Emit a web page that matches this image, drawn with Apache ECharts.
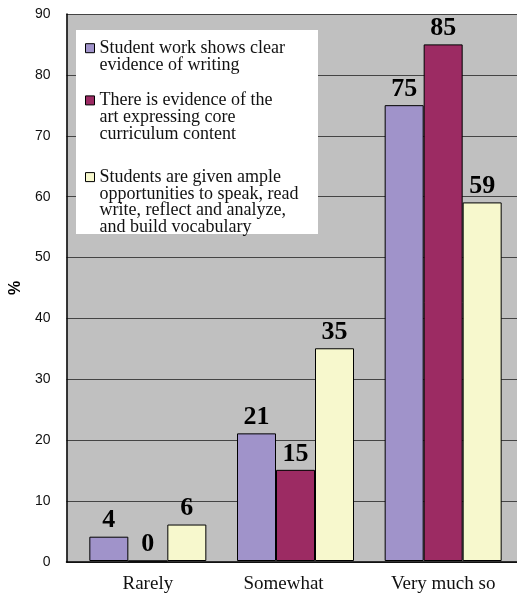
<!DOCTYPE html>
<html>
<head>
<meta charset="utf-8">
<script src="https://cdn.jsdelivr.net/npm/echarts@6/dist/echarts.min.js"></script>
<style>
  html, body { margin: 0; padding: 0; background: #fff; }
  #chart { width: 517px; height: 594px; }
</style>
</head>
<body>
<div id="chart"></div>
<script>
// categories and values
const categories = ['Rarely', 'Somewhat', 'Very much so']
const seriesNames = [
  'Student work shows clear\nevidence of writing',
  'There is evidence of the\nart expressing core\ncurriculum content',
  'Students are given ample\nopportunities to speak, read\nwrite, reflect and analyze,\nand build vocabulary'
]
const writingValues = [4, 21, 75]
const artValues = [0, 15, 85]
const speakValues = [6, 35, 59]
const yTicks = { min: 0, max: 90, interval: 10 }

const colors = ['#A093CA', '#9C2B63', '#F7F8CD']
const serif = 'Liberation Serif'
const lineH = 16.7
// the middle label sits a little left of its bars in the original
const labelShift = { Somewhat: 24 }

const chart = echarts.init(document.getElementById('chart'))

function makeLegend (idx, top) {
  return {
    data: [seriesNames[idx]],
    orient: 'vertical',
    left: 85,
    top: top,
    padding: 0,
    icon: 'rect',
    itemWidth: 9,
    itemHeight: 9,
    itemStyle: { borderColor: '#000', borderWidth: 1 },
    // empty lines in front so the first real line sits level with the icon
    formatter: function (name) {
      const n = name.split('\n').length
      return '\n'.repeat(n - 1) + name
    },
    textStyle: {
      fontFamily: serif,
      fontSize: 18,
      lineHeight: lineH,
      color: '#111'
    }
  }
}

function makeBar (idx, values) {
  return {
    name: seriesNames[idx],
    type: 'bar',
    xAxisIndex: 1,
    yAxisIndex: 1,
    data: values,
    barWidth: 39,
    barGap: '0%',
    itemStyle: { color: colors[idx], borderColor: '#000', borderWidth: 1 },
    label: {
      show: true,
      position: 'top',
      distance: 3,
      fontFamily: serif,
      fontWeight: 'bold',
      fontSize: 26,
      color: '#000'
    }
  }
}

const option = {
  animation: false,
  graphic: [{
    type: 'rect',
    z: 3,
    shape: { x: 76, y: 30, width: 242, height: 204 },
    style: { fill: '#fff' }
  }],
  legend: [
    makeLegend(0, 22.5),
    makeLegend(1, 58),
    makeLegend(2, 118)
  ],
  grid: [
    // frame: gray plot area, gridlines, axis lines
    { left: 61, top: 14, right: 0, bottom: 32, show: true, backgroundColor: '#C0C0C0', borderWidth: 0 },
    // bars
    { left: 74, top: 14, right: -3, bottom: 32 }
  ],
  xAxis: [{
    gridIndex: 0,
    type: 'category',
    data: categories,
    axisLine: { lineStyle: { color: '#000', width: 1.5 } },
    axisTick: { show: false },
    axisLabel: { show: false }
  }, {
    gridIndex: 1,
    type: 'category',
    data: categories.map(c => ({
      value: c,
      textStyle: { padding: [0, labelShift[c] || 0, 0, 0] }
    })),
    axisLine: { show: false },
    axisTick: { show: false },
    axisLabel: { margin: 14, fontFamily: serif, fontSize: 19, color: '#111' }
  }],
  yAxis: [{
    gridIndex: 0,
    type: 'value',
    min: yTicks.min,
    max: yTicks.max,
    interval: yTicks.interval,
    name: '%',
    nameLocation: 'middle',
    nameGap: 34,
    nameTextStyle: { fontFamily: 'Liberation Sans', fontWeight: 'bold', fontSize: 16, color: '#000' },
    axisLine: { show: true, lineStyle: { color: '#000', width: 1.5 } },
    axisTick: { show: false },
    axisLabel: { margin: 16, fontFamily: 'Liberation Sans', fontSize: 14, color: '#111' },
    splitLine: { lineStyle: { color: '#444', width: 1 } }
  }, {
    gridIndex: 1,
    type: 'value',
    min: yTicks.min,
    max: yTicks.max,
    interval: yTicks.interval,
    show: false,
    splitLine: { show: false }
  }],
  series: [
    makeBar(0, writingValues),
    makeBar(1, artValues),
    makeBar(2, speakValues)
  ]
}

chart.setOption(option)
</script>
</body>
</html>
